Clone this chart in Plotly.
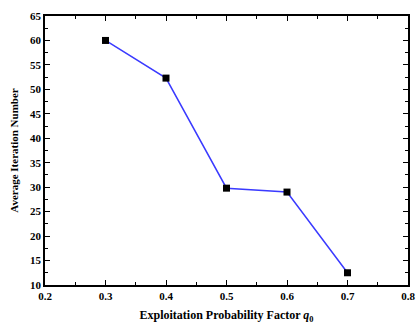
import plotly.graph_objects as go

q_values = [0.3, 0.4, 0.5, 0.6, 0.7]
avg_iterations = [60.0, 52.3, 29.8, 29.0, 12.5]

font_family = "Liberation Serif"

fig = go.Figure()
fig.add_trace(go.Scatter(
    x=q_values, y=avg_iterations, mode="lines+markers",
    line=dict(color="#3a3aff", width=1.5),
    marker=dict(symbol="square", size=7, color="black"),
    showlegend=False,
))

axis_common = dict(
    showline=True, linecolor="black", linewidth=1.5, mirror="ticks",
    ticks="inside", ticklen=5, tickwidth=1, tickcolor="black",
    showgrid=False, zeroline=False, automargin=False,
    tickfont=dict(family=font_family, size=11, color="black", weight="bold"),
)

fig.update_xaxes(
    range=[0.2, 0.8], dtick=0.1, tickformat=".1f",
    minor=dict(ticks="inside", ticklen=3, dtick=0.05, tickcolor="black"),
    title=dict(text="Exploitation Probability Factor <i>q</i><sub>0</sub>",
               font=dict(family=font_family, size=12, color="black", weight="bold"),
               standoff=13),
    **axis_common,
)
fig.update_yaxes(
    range=[10, 65], dtick=5,
    minor=dict(ticks="inside", ticklen=3, dtick=2.5, tickcolor="black"),
    title=dict(text="Average Iteration Number",
               font=dict(family=font_family, size=11, color="black", weight="bold"),
               standoff=9),
    **axis_common,
)

fig.update_layout(
    width=417, height=324,
    margin=dict(l=45, r=9, t=16, b=39),
    paper_bgcolor="white", plot_bgcolor="white",
)

fig.write_html("out.html")
